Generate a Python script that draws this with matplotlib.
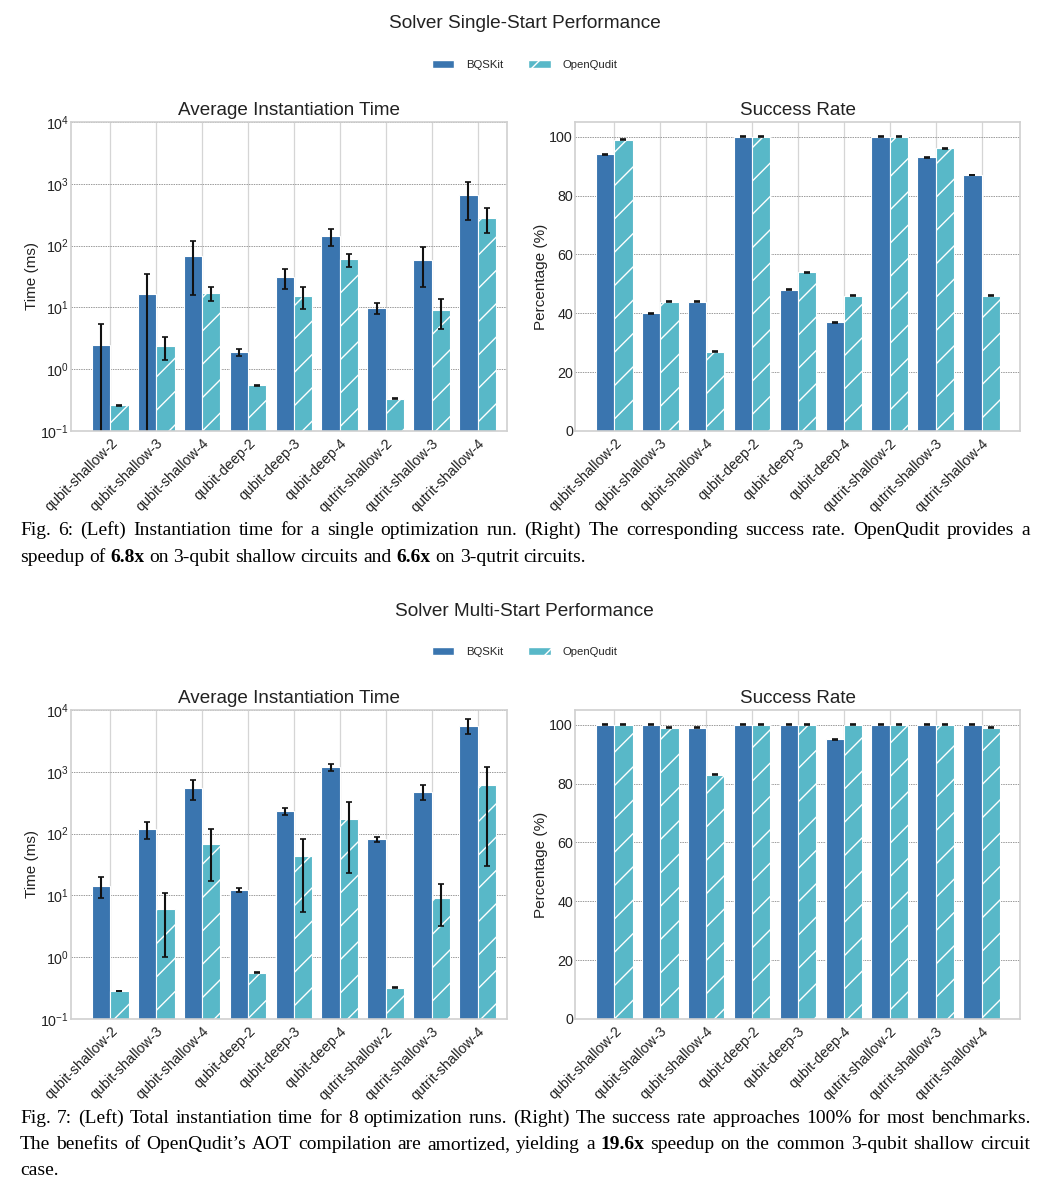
import numpy as np
import matplotlib
matplotlib.use('Agg')
from matplotlib import pyplot as plt
from matplotlib.patches import Patch

plt.style.use('seaborn-v0_8-whitegrid')
plt.rcParams['font.family'] = ['Liberation Sans', 'DejaVu Sans']
plt.rcParams['mathtext.default'] = 'regular'

W, H = 1049, 1200

benchmarks = ['qubit-shallow-2', 'qubit-shallow-3', 'qubit-shallow-4',
              'qubit-deep-2', 'qubit-deep-3', 'qubit-deep-4',
              'qutrit-shallow-2', 'qutrit-shallow-3', 'qutrit-shallow-4']

# single start
single_time_bqskit = [2.45, 16.3, 67, 1.87, 30.5, 143, 9.7, 59, 670]
single_time_bqskit_err = [3.0, 18, 51, 0.24, 10.6, 45, 1.9, 37.5, 410]
single_time_oq = [0.26, 2.37, 16.9, 0.548, 15.5, 60, 0.333, 9.1, 283]
single_time_oq_err = [0.004, 0.95, 4.1, 0.006, 6, 14.5, 0.004, 4.7, 121]
single_succ_bqskit = [94, 40, 44, 100, 48, 37, 100, 93, 87]
single_succ_oq = [99, 44, 27, 100, 54, 46, 100, 96, 46]

# multi start
multi_time_bqskit = [14.4, 117, 540, 12.4, 232, 1180, 81, 477, 5600]
multi_time_bqskit_err = [5.2, 36, 190, 1.0, 30, 155, 8, 130, 1450]
multi_time_oq = [0.284, 6.0, 67, 0.562, 43.4, 174, 0.321, 9.2, 620]
multi_time_oq_err = [0.003, 5.0, 50, 0.005, 38, 151, 0.004, 6, 590]
multi_succ_bqskit = [100, 100, 99, 100, 100, 95, 100, 100, 100]
multi_succ_oq = [100, 99, 83, 100, 100, 100, 100, 100, 99]

succ_err = [0.15] * 9

c_bq = '#3a75af'
c_oq = '#58b8c8'


def px_axes(x0, y0, x1, y1):
    return fig.add_axes([x0 / W, 1 - y1 / H, (x1 - x0) / W, (y1 - y0) / H])


def style_ax(ax, title, ylabel):
    ax.set_title(title, fontsize=13.6, pad=5, color='#222222')
    ax.set_ylabel(ylabel, fontsize=11, color='#222222', labelpad=1)
    ax.xaxis.grid(True, color='#d5d5d5', linestyle='-', linewidth=0.9)
    ax.yaxis.grid(True, color='#9a9a9a', linestyle=(0, (1.5, 1)), linewidth=0.7)
    ax.set_axisbelow(True)
    for s in ax.spines.values():
        s.set_color('#d0d0d0')
        s.set_linewidth(1.2)
    ax.tick_params(axis='both', labelsize=10.3, colors='#222222', length=0)
    ax.tick_params(axis='y', pad=1.5)
    ax.set_xticks(np.arange(len(benchmarks)))
    ax.set_xticklabels(benchmarks, rotation=45, ha='right', rotation_mode='anchor')


def bars(ax, a, ae, b, be):
    x = np.arange(len(benchmarks))
    ax.bar(x - 0.2, a, 0.4, color=c_bq, edgecolor='white', linewidth=0.8,
           yerr=ae, capsize=2.5, error_kw=dict(ecolor='#111111', elinewidth=1.5, capthick=1.2))
    ax.bar(x + 0.2, b, 0.4, color=c_oq, edgecolor='white', linewidth=0.8, hatch='/',
           yerr=be, capsize=2.5, error_kw=dict(ecolor='#111111', elinewidth=1.5, capthick=1.2))


def time_panel(y0, y1, a, ae, b, be):
    ax = px_axes(71, y0, 507, y1)
    ax.set_yscale('log', nonpositive='clip')
    bars(ax, a, ae, b, be)
    ax.set_ylim(0.1, 1e4)
    ax.set_xlim(-0.855, 8.64)
    ax.minorticks_off()
    style_ax(ax, 'Average Instantiation Time', 'Time (ms)')
    return ax


def succ_panel(y0, y1, a, b):
    ax = px_axes(575, y0, 1020, y1)
    bars(ax, a, succ_err, b, succ_err)
    ax.set_ylim(0, 105)
    ax.set_xlim(-0.855, 8.835)
    ax.set_yticks([0, 20, 40, 60, 80, 100])
    style_ax(ax, 'Success Rate', 'Percentage (%)')
    return ax


def header(title, yt, yl):
    fig.text(0.5, 1 - yt / H, title, ha='center', va='center', fontsize=13.7, color='#222222')
    handles = [Patch(facecolor=c_bq, edgecolor='white', label='BQSKit'),
               Patch(facecolor=c_oq, edgecolor='white', hatch='/', label='OpenQudit')]
    fig.legend(handles=handles, loc='center', bbox_to_anchor=(0.5, 1 - yl / H), ncol=2,
               frameon=False, fontsize=8.2, handletextpad=1.0, columnspacing=2.2)


def caption_line(line, y, justify, size=14, x0=20, x1=1030):
    # y is the centre of the line in pixels; words sit on a common baseline
    words = line.split(' ')
    texts = []
    for w in words:
        bold = w.startswith('**')
        w = w.replace('**', '')
        t = fig.text(0, 1 - (y + 5) / H, w, fontsize=size, family='Liberation Serif',
                     weight='bold' if bold else 'normal', va='baseline', ha='left', color='black')
        texts.append(t)
    r = fig.canvas.get_renderer()
    widths = [t.get_window_extent(r).width for t in texts]
    if justify and len(words) > 1:
        gap = (x1 - x0 - sum(widths)) / (len(words) - 1)
    else:
        gap = size * 0.25 * 100 / 72
    x = x0
    for t, w in zip(texts, widths):
        t.set_x(x / W)
        x += w + gap


fig = plt.figure(figsize=(W / 100, H / 100), dpi=100)

header('Solver Single-Start Performance', 24, 65)
time_panel(122, 431, single_time_bqskit, single_time_bqskit_err, single_time_oq, single_time_oq_err)
succ_panel(122, 431, single_succ_bqskit, single_succ_oq)

header('Solver Multi-Start Performance', 611, 652)
time_panel(710, 1019, multi_time_bqskit, multi_time_bqskit_err, multi_time_oq, multi_time_oq_err)
succ_panel(710, 1019, multi_succ_bqskit, multi_succ_oq)

caption_line('Fig. 6: (Left) Instantiation time for a single optimization run. (Right) The corresponding success rate. OpenQudit provides a', 530, True)
caption_line('speedup of **6.8x** on 3-qubit shallow circuits and **6.6x** on 3-qutrit circuits.', 557, False)
caption_line('Fig. 7: (Left) Total instantiation time for 8 optimization runs. (Right) The success rate approaches 100% for most benchmarks.', 1118, True)
caption_line('The benefits of OpenQudit\u2019s AOT compilation are amortized, yielding a **19.6x** speedup on the common 3-qubit shallow circuit', 1144, True)
caption_line('case.', 1170, False)

plt.savefig('out.png', dpi=100)
